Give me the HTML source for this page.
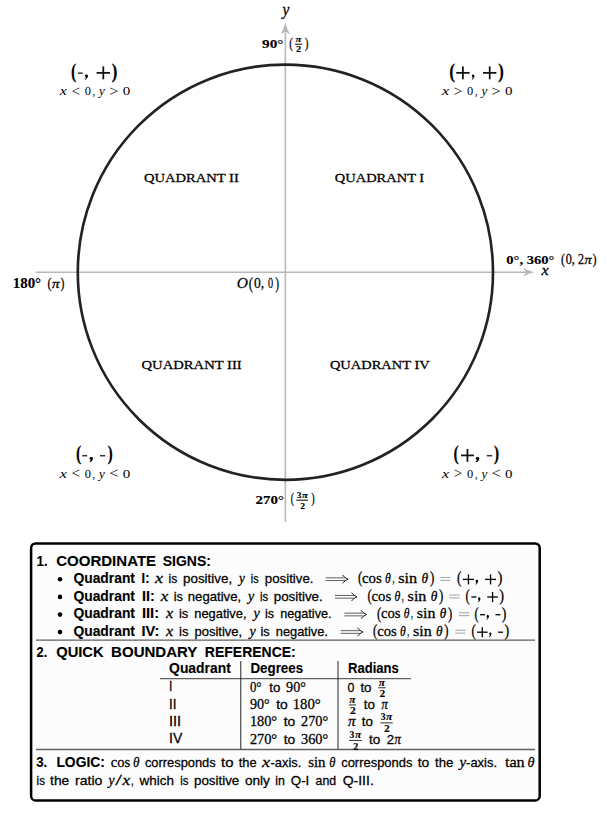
<!DOCTYPE html>
<html><head><meta charset="utf-8"><style>
html,body{margin:0;padding:0;background:#fff;width:607px;height:818px;overflow:hidden}
svg{display:block}
text{stroke:#000;stroke-width:0.26px}
text[font-weight=bold]{stroke-width:0.12px}
</style></head><body>
<svg width="607" height="818" viewBox="0 0 607 818">
<line x1="35.80" y1="272.20" x2="525.00" y2="272.20" stroke="#b8b8b8" stroke-width="1.6"/>
<line x1="285.40" y1="521.70" x2="285.40" y2="33.00" stroke="#b8b8b8" stroke-width="1.6"/>
<path d="M534,272.2 Q528,271.2 523,267.59999999999997 Q526,271.7 525,272.2 Q526,272.7 523,276.8 Q528,273.2 534,272.2 Z" fill="#b8b8b8"/>
<path d="M285.4,22.6 Q284.4,28 280.79999999999995,34.5 Q284.9,31.5 285.4,32.5 Q285.9,31.5 290.0,34.5 Q286.4,28 285.4,22.6 Z" fill="#b8b8b8"/>
<circle cx="285.4" cy="272.2" r="207.6" fill="none" stroke="#222" stroke-width="2.65"/>
<text x="282.60" y="14.61" textLength="6.88" lengthAdjust="spacingAndGlyphs" font-family='"Liberation Serif", serif' font-size="15.70" font-style="italic">y</text>
<text x="541.41" y="275.20" textLength="7.19" lengthAdjust="spacingAndGlyphs" font-family='"Liberation Serif", serif' font-size="14.38" font-style="italic">x</text>
<text x="262.10" y="47.50" textLength="21.30" lengthAdjust="spacingAndGlyphs" font-family='"Liberation Serif", serif' font-size="13.30" font-weight="bold">90°</text>
<text x="289.20" y="47.69" textLength="3.70" lengthAdjust="spacingAndGlyphs" font-family='"Liberation Serif", serif' font-size="15.55">(</text>
<text x="304.80" y="47.69" textLength="3.70" lengthAdjust="spacingAndGlyphs" font-family='"Liberation Serif", serif' font-size="15.55">)</text>
<text x="295.60" y="41.72" textLength="5.97" lengthAdjust="spacingAndGlyphs" font-family='"Liberation Serif", serif' font-size="7.68" font-weight="bold" font-style="italic">π</text>
<line x1="295.10" y1="44.20" x2="302.10" y2="44.20" stroke="#000" stroke-width="1.0"/>
<text x="296.10" y="52.30" textLength="5.20" lengthAdjust="spacingAndGlyphs" font-family='"Liberation Serif", serif' font-size="8.61" font-weight="bold">2</text>
<text x="255.50" y="503.70" textLength="28.40" lengthAdjust="spacingAndGlyphs" font-family='"Liberation Serif", serif' font-size="13.30" font-weight="bold">270°</text>
<text x="290.70" y="503.48" textLength="3.20" lengthAdjust="spacingAndGlyphs" font-family='"Liberation Serif", serif' font-size="15.10">(</text>
<text x="311.30" y="503.48" textLength="3.40" lengthAdjust="spacingAndGlyphs" font-family='"Liberation Serif", serif' font-size="15.10">)</text>
<text x="296.80" y="498.41" textLength="4.70" lengthAdjust="spacingAndGlyphs" font-family='"Liberation Serif", serif' font-size="8.63" font-weight="bold">3</text>
<text x="302.00" y="498.41" textLength="5.87" lengthAdjust="spacingAndGlyphs" font-family='"Liberation Serif", serif' font-size="8.53" font-weight="bold" font-style="italic">π</text>
<line x1="296.30" y1="500.20" x2="308.10" y2="500.20" stroke="#000" stroke-width="1.0"/>
<text x="300.20" y="508.60" textLength="4.80" lengthAdjust="spacingAndGlyphs" font-family='"Liberation Serif", serif' font-size="9.21" font-weight="bold">2</text>
<text x="12.70" y="287.80" textLength="28.40" lengthAdjust="spacingAndGlyphs" font-family='"Liberation Serif", serif' font-size="13.80" font-weight="bold">180°</text>
<text x="47.50" y="287.54" textLength="4.00" lengthAdjust="spacingAndGlyphs" font-family='"Liberation Serif", serif' font-size="15.33">(</text>
<text x="60.40" y="287.54" textLength="3.90" lengthAdjust="spacingAndGlyphs" font-family='"Liberation Serif", serif' font-size="15.33">)</text>
<text x="52.00" y="287.80" textLength="7.55" lengthAdjust="spacingAndGlyphs" font-family='"Liberation Serif", serif' font-size="13.00" font-style="italic">π</text>
<text x="506.30" y="263.70" textLength="48.10" lengthAdjust="spacingAndGlyphs" font-family='"Liberation Serif", serif' font-size="13.50" font-weight="bold">0°, 360°</text>
<text x="561.00" y="263.90" textLength="4.00" lengthAdjust="spacingAndGlyphs" font-family='"Liberation Serif", serif' font-size="14.55">(</text>
<text x="565.80" y="263.80" textLength="18.20" lengthAdjust="spacingAndGlyphs" font-family='"Liberation Serif", serif' font-size="14.00">0, 2</text>
<text x="584.50" y="263.80" textLength="7.17" lengthAdjust="spacingAndGlyphs" font-family='"Liberation Serif", serif' font-size="13.00" font-style="italic">π</text>
<text x="592.40" y="263.90" textLength="4.00" lengthAdjust="spacingAndGlyphs" font-family='"Liberation Serif", serif' font-size="14.55">)</text>
<text x="236.70" y="288.10" textLength="11.20" lengthAdjust="spacingAndGlyphs" font-family='"Liberation Serif", serif' font-size="15.00" font-style="italic">O</text>
<text x="248.70" y="288.78" textLength="4.30" lengthAdjust="spacingAndGlyphs" font-family='"Liberation Serif", serif' font-size="16.98">(</text>
<text x="253.90" y="288.30" textLength="10.20" lengthAdjust="spacingAndGlyphs" font-family='"Liberation Serif", serif' font-size="15.00">0,</text>
<text x="268.00" y="288.30" textLength="5.10" lengthAdjust="spacingAndGlyphs" font-family='"Liberation Serif", serif' font-size="15.00">0</text>
<text x="275.30" y="288.78" textLength="3.80" lengthAdjust="spacingAndGlyphs" font-family='"Liberation Serif", serif' font-size="16.98">)</text>
<text x="144.10" y="181.50" textLength="94.70" lengthAdjust="spacingAndGlyphs" font-family='"Liberation Serif", serif' font-size="13.20">QUADRANT II</text>
<text x="334.80" y="181.50" textLength="89.40" lengthAdjust="spacingAndGlyphs" font-family='"Liberation Serif", serif' font-size="13.20">QUADRANT I</text>
<text x="141.50" y="369.20" textLength="100.20" lengthAdjust="spacingAndGlyphs" font-family='"Liberation Serif", serif' font-size="13.20">QUADRANT III</text>
<text x="329.90" y="369.20" textLength="99.80" lengthAdjust="spacingAndGlyphs" font-family='"Liberation Serif", serif' font-size="13.20">QUADRANT IV</text>
<text x="70.90" y="77.55" textLength="5.30" lengthAdjust="spacingAndGlyphs" font-family='"Liberation Serif", serif' font-size="19.96" font-weight="bold">(</text>
<rect x="77.90" y="72.40" width="4.80" height="1.50" fill="#333"/>
<ellipse cx="86.46" cy="75.88" rx="1.47" ry="1.43" fill="#000"/>
<path d="M87.85,75.88 Q87.90,78.42 85.28,79.75 L84.80,79.40 Q86.56,77.63 85.76,76.74 Z" fill="#000"/>
<rect x="96.60" y="71.97" width="13.40" height="1.75" fill="#111"/>
<rect x="102.42" y="66.40" width="1.75" height="12.90" fill="#111"/>
<text x="111.60" y="77.55" textLength="5.90" lengthAdjust="spacingAndGlyphs" font-family='"Liberation Serif", serif' font-size="19.96" font-weight="bold">)</text>
<text x="449.30" y="77.55" textLength="5.90" lengthAdjust="spacingAndGlyphs" font-family='"Liberation Serif", serif' font-size="19.96" font-weight="bold">(</text>
<rect x="456.20" y="71.97" width="13.40" height="1.75" fill="#111"/>
<rect x="462.02" y="66.40" width="1.75" height="12.90" fill="#111"/>
<ellipse cx="473.20" cy="75.88" rx="1.24" ry="1.43" fill="#000"/>
<path d="M474.35,75.88 Q474.40,78.42 472.20,79.75 L471.80,79.40 Q473.29,77.63 472.61,76.74 Z" fill="#000"/>
<rect x="483.00" y="71.97" width="13.40" height="1.75" fill="#111"/>
<rect x="488.82" y="66.40" width="1.75" height="12.90" fill="#111"/>
<text x="498.00" y="77.55" textLength="5.90" lengthAdjust="spacingAndGlyphs" font-family='"Liberation Serif", serif' font-size="19.96" font-weight="bold">)</text>
<text x="75.90" y="460.15" textLength="5.30" lengthAdjust="spacingAndGlyphs" font-family='"Liberation Serif", serif' font-size="19.96" font-weight="bold">(</text>
<rect x="82.30" y="454.95" width="4.80" height="1.50" fill="#333"/>
<ellipse cx="91.22" cy="458.43" rx="1.70" ry="1.43" fill="#000"/>
<path d="M92.85,458.43 Q92.90,460.97 89.86,462.30 L89.30,461.95 Q91.33,460.18 90.41,459.29 Z" fill="#000"/>
<rect x="100.00" y="454.95" width="5.30" height="1.50" fill="#333"/>
<text x="107.50" y="460.15" textLength="5.30" lengthAdjust="spacingAndGlyphs" font-family='"Liberation Serif", serif' font-size="19.96" font-weight="bold">)</text>
<text x="453.60" y="460.15" textLength="5.30" lengthAdjust="spacingAndGlyphs" font-family='"Liberation Serif", serif' font-size="19.96" font-weight="bold">(</text>
<rect x="461.00" y="454.52" width="12.90" height="1.75" fill="#111"/>
<rect x="466.57" y="448.95" width="1.75" height="12.90" fill="#111"/>
<ellipse cx="477.48" cy="458.43" rx="1.75" ry="1.43" fill="#000"/>
<path d="M479.15,458.43 Q479.20,460.97 476.07,462.30 L475.50,461.95 Q477.59,460.18 476.64,459.29 Z" fill="#000"/>
<rect x="486.80" y="454.95" width="5.30" height="1.50" fill="#333"/>
<text x="493.70" y="460.15" textLength="5.40" lengthAdjust="spacingAndGlyphs" font-family='"Liberation Serif", serif' font-size="19.96" font-weight="bold">)</text>
<text x="59.81" y="95.40" textLength="7.09" lengthAdjust="spacingAndGlyphs" font-family='"Liberation Serif", serif' font-size="12.80" font-style="italic" style="stroke:none">x</text>
<text x="71.50" y="95.80" textLength="8.60" lengthAdjust="spacingAndGlyphs" font-family='"Liberation Serif", serif' font-size="13.76" style="stroke:none">&lt;</text>
<text x="84.70" y="95.40" textLength="6.20" lengthAdjust="spacingAndGlyphs" font-family='"Liberation Serif", serif' font-size="13.40" style="stroke:none">0</text>
<text x="92.60" y="95.40" textLength="2.60" lengthAdjust="spacingAndGlyphs" font-family='"Liberation Serif", serif' font-size="13.30" style="stroke:none">,</text>
<text x="99.10" y="95.40" textLength="5.79" lengthAdjust="spacingAndGlyphs" font-family='"Liberation Serif", serif' font-size="12.80" font-style="italic" style="stroke:none">y</text>
<text x="109.20" y="95.80" textLength="9.20" lengthAdjust="spacingAndGlyphs" font-family='"Liberation Serif", serif' font-size="13.76" style="stroke:none">&gt;</text>
<text x="122.70" y="95.40" textLength="7.50" lengthAdjust="spacingAndGlyphs" font-family='"Liberation Serif", serif' font-size="13.40" style="stroke:none">0</text>
<text x="442.11" y="95.40" textLength="7.09" lengthAdjust="spacingAndGlyphs" font-family='"Liberation Serif", serif' font-size="12.80" font-style="italic" style="stroke:none">x</text>
<text x="453.80" y="95.80" textLength="8.60" lengthAdjust="spacingAndGlyphs" font-family='"Liberation Serif", serif' font-size="13.76" style="stroke:none">&gt;</text>
<text x="467.00" y="95.40" textLength="6.20" lengthAdjust="spacingAndGlyphs" font-family='"Liberation Serif", serif' font-size="13.40" style="stroke:none">0</text>
<text x="474.90" y="95.40" textLength="2.60" lengthAdjust="spacingAndGlyphs" font-family='"Liberation Serif", serif' font-size="13.30" style="stroke:none">,</text>
<text x="481.40" y="95.40" textLength="5.79" lengthAdjust="spacingAndGlyphs" font-family='"Liberation Serif", serif' font-size="12.80" font-style="italic" style="stroke:none">y</text>
<text x="491.50" y="95.80" textLength="9.20" lengthAdjust="spacingAndGlyphs" font-family='"Liberation Serif", serif' font-size="13.76" style="stroke:none">&gt;</text>
<text x="505.00" y="95.40" textLength="7.50" lengthAdjust="spacingAndGlyphs" font-family='"Liberation Serif", serif' font-size="13.40" style="stroke:none">0</text>
<text x="59.81" y="477.70" textLength="7.09" lengthAdjust="spacingAndGlyphs" font-family='"Liberation Serif", serif' font-size="12.80" font-style="italic" style="stroke:none">x</text>
<text x="71.50" y="478.10" textLength="8.60" lengthAdjust="spacingAndGlyphs" font-family='"Liberation Serif", serif' font-size="13.76" style="stroke:none">&lt;</text>
<text x="84.70" y="477.70" textLength="6.20" lengthAdjust="spacingAndGlyphs" font-family='"Liberation Serif", serif' font-size="13.40" style="stroke:none">0</text>
<text x="92.60" y="477.70" textLength="2.60" lengthAdjust="spacingAndGlyphs" font-family='"Liberation Serif", serif' font-size="13.30" style="stroke:none">,</text>
<text x="99.10" y="477.70" textLength="5.79" lengthAdjust="spacingAndGlyphs" font-family='"Liberation Serif", serif' font-size="12.80" font-style="italic" style="stroke:none">y</text>
<text x="109.20" y="478.10" textLength="9.20" lengthAdjust="spacingAndGlyphs" font-family='"Liberation Serif", serif' font-size="13.76" style="stroke:none">&lt;</text>
<text x="122.70" y="477.70" textLength="7.50" lengthAdjust="spacingAndGlyphs" font-family='"Liberation Serif", serif' font-size="13.40" style="stroke:none">0</text>
<text x="442.11" y="477.70" textLength="7.09" lengthAdjust="spacingAndGlyphs" font-family='"Liberation Serif", serif' font-size="12.80" font-style="italic" style="stroke:none">x</text>
<text x="453.80" y="478.10" textLength="8.60" lengthAdjust="spacingAndGlyphs" font-family='"Liberation Serif", serif' font-size="13.76" style="stroke:none">&gt;</text>
<text x="467.00" y="477.70" textLength="6.20" lengthAdjust="spacingAndGlyphs" font-family='"Liberation Serif", serif' font-size="13.40" style="stroke:none">0</text>
<text x="474.90" y="477.70" textLength="2.60" lengthAdjust="spacingAndGlyphs" font-family='"Liberation Serif", serif' font-size="13.30" style="stroke:none">,</text>
<text x="481.40" y="477.70" textLength="5.79" lengthAdjust="spacingAndGlyphs" font-family='"Liberation Serif", serif' font-size="12.80" font-style="italic" style="stroke:none">y</text>
<text x="491.50" y="478.10" textLength="9.20" lengthAdjust="spacingAndGlyphs" font-family='"Liberation Serif", serif' font-size="13.76" style="stroke:none">&lt;</text>
<text x="505.00" y="477.70" textLength="7.50" lengthAdjust="spacingAndGlyphs" font-family='"Liberation Serif", serif' font-size="13.40" style="stroke:none">0</text>
<rect x="31.1" y="543.4" width="508.6" height="257.1" rx="4.6" ry="4.6" fill="#fcfcfc" stroke="#000" stroke-width="2.5"/>
<line x1="36.00" y1="640.10" x2="535.00" y2="640.10" stroke="#606060" stroke-width="1.4"/>
<line x1="36.00" y1="749.50" x2="535.00" y2="749.50" stroke="#606060" stroke-width="1.4"/>
<text x="36.60" y="566.00" textLength="11.10" lengthAdjust="spacingAndGlyphs" font-family='"Liberation Sans", sans-serif' font-size="15.20" font-weight="bold">1.</text>
<text x="56.20" y="566.00" textLength="99.90" lengthAdjust="spacingAndGlyphs" font-family='"Liberation Sans", sans-serif' font-size="15.20" font-weight="bold">COORDINATE</text>
<text x="162.70" y="566.00" textLength="48.20" lengthAdjust="spacingAndGlyphs" font-family='"Liberation Sans", sans-serif' font-size="15.20" font-weight="bold">SIGNS:</text>
<circle cx="60" cy="579.30" r="2.3" fill="#000"/>
<text x="73.40" y="582.90" textLength="61.60" lengthAdjust="spacingAndGlyphs" font-family='"Liberation Sans", sans-serif' font-size="14.40" font-weight="bold">Quadrant</text>
<text x="141.60" y="582.90" textLength="7.90" lengthAdjust="spacingAndGlyphs" font-family='"Liberation Sans", sans-serif' font-size="14.40" font-weight="bold">I:</text>
<text x="155.14" y="582.90" textLength="8.06" lengthAdjust="spacingAndGlyphs" font-family='"Liberation Serif", serif' font-size="15.00" font-style="italic">x</text>
<text x="168.50" y="582.90" textLength="8.70" lengthAdjust="spacingAndGlyphs" font-family='"Liberation Sans", sans-serif' font-size="13.20">is</text>
<text x="183.00" y="582.90" textLength="49.11" lengthAdjust="spacingAndGlyphs" font-family='"Liberation Sans", sans-serif' font-size="13.20">positive,</text>
<text x="239.01" y="582.90" textLength="5.87" lengthAdjust="spacingAndGlyphs" font-family='"Liberation Serif", serif' font-size="15.00" font-style="italic">y</text>
<text x="250.80" y="582.90" textLength="7.80" lengthAdjust="spacingAndGlyphs" font-family='"Liberation Sans", sans-serif' font-size="13.20">is</text>
<text x="264.80" y="582.90" textLength="48.71" lengthAdjust="spacingAndGlyphs" font-family='"Liberation Sans", sans-serif' font-size="13.20">positive.</text>
<path d="M325.50,577.85 H345.00 M325.50,580.55 H345.00" stroke="#444" stroke-width="0.85" fill="none"/>
<path d="M342.50,575.00 Q345.00,578.20 348.00,579.20 Q345.00,580.20 342.50,583.40" stroke="#000" stroke-width="0.9" fill="none"/>
<text x="357.90" y="583.25" textLength="4.30" lengthAdjust="spacingAndGlyphs" font-family='"Liberation Serif", serif' font-size="16.21">(</text>
<text x="362.00" y="583.10" textLength="19.80" lengthAdjust="spacingAndGlyphs" font-family='"Liberation Serif", serif' font-size="13.80">cos</text>
<text x="385.00" y="583.10" textLength="5.80" lengthAdjust="spacingAndGlyphs" font-family='"Liberation Serif", serif' font-size="13.80" font-style="italic">θ</text>
<text x="392.50" y="583.10" textLength="1.90" lengthAdjust="spacingAndGlyphs" font-family='"Liberation Serif", serif' font-size="13.80">,</text>
<text x="398.30" y="583.10" textLength="18.90" lengthAdjust="spacingAndGlyphs" font-family='"Liberation Serif", serif' font-size="13.80">sin</text>
<text x="421.50" y="583.10" textLength="6.60" lengthAdjust="spacingAndGlyphs" font-family='"Liberation Serif", serif' font-size="13.80" font-style="italic">θ</text>
<text x="429.90" y="583.25" textLength="4.30" lengthAdjust="spacingAndGlyphs" font-family='"Liberation Serif", serif' font-size="16.21">)</text>
<path d="M440.30,577.45 H450.40 M440.30,580.35 H450.40" stroke="#999" stroke-width="0.9" fill="none"/>
<text x="457.00" y="583.32" textLength="4.42" lengthAdjust="spacingAndGlyphs" font-family='"Liberation Serif", serif' font-size="16.32">(</text>
<rect x="462.93" y="578.75" width="11.05" height="1.30" fill="#000"/>
<rect x="467.80" y="574.40" width="1.30" height="10.00" fill="#000"/>
<ellipse cx="476.84" cy="581.05" rx="1.20" ry="1.35" fill="#000"/>
<path d="M477.94,581.05 Q477.99,583.45 475.87,584.70 L475.48,584.35 Q476.92,582.70 476.26,581.86 Z" fill="#000"/>
<rect x="485.02" y="578.75" width="11.05" height="1.30" fill="#000"/>
<rect x="489.90" y="574.40" width="1.30" height="10.00" fill="#000"/>
<text x="497.48" y="583.32" textLength="4.92" lengthAdjust="spacingAndGlyphs" font-family='"Liberation Serif", serif' font-size="16.32">)</text>
<circle cx="60" cy="596.90" r="2.3" fill="#000"/>
<text x="73.40" y="600.50" textLength="61.60" lengthAdjust="spacingAndGlyphs" font-family='"Liberation Sans", sans-serif' font-size="14.40" font-weight="bold">Quadrant</text>
<text x="141.90" y="600.50" textLength="12.80" lengthAdjust="spacingAndGlyphs" font-family='"Liberation Sans", sans-serif' font-size="14.40" font-weight="bold">II:</text>
<text x="160.72" y="600.50" textLength="7.58" lengthAdjust="spacingAndGlyphs" font-family='"Liberation Serif", serif' font-size="15.00" font-style="italic">x</text>
<text x="173.70" y="600.50" textLength="9.20" lengthAdjust="spacingAndGlyphs" font-family='"Liberation Sans", sans-serif' font-size="13.20">is</text>
<text x="187.80" y="600.50" textLength="53.29" lengthAdjust="spacingAndGlyphs" font-family='"Liberation Sans", sans-serif' font-size="13.20">negative,</text>
<text x="248.08" y="600.50" textLength="6.21" lengthAdjust="spacingAndGlyphs" font-family='"Liberation Serif", serif' font-size="15.00" font-style="italic">y</text>
<text x="260.10" y="600.50" textLength="8.20" lengthAdjust="spacingAndGlyphs" font-family='"Liberation Sans", sans-serif' font-size="13.20">is</text>
<text x="273.70" y="600.50" textLength="49.11" lengthAdjust="spacingAndGlyphs" font-family='"Liberation Sans", sans-serif' font-size="13.20">positive.</text>
<path d="M334.90,595.45 H354.00 M334.90,598.15 H354.00" stroke="#444" stroke-width="0.85" fill="none"/>
<path d="M351.50,592.60 Q354.00,595.80 357.00,596.80 Q354.00,597.80 351.50,601.00" stroke="#000" stroke-width="0.9" fill="none"/>
<text x="367.50" y="600.85" textLength="4.27" lengthAdjust="spacingAndGlyphs" font-family='"Liberation Serif", serif' font-size="16.21">(</text>
<text x="371.57" y="600.70" textLength="19.67" lengthAdjust="spacingAndGlyphs" font-family='"Liberation Serif", serif' font-size="13.80">cos</text>
<text x="394.42" y="600.70" textLength="5.76" lengthAdjust="spacingAndGlyphs" font-family='"Liberation Serif", serif' font-size="13.80" font-style="italic">θ</text>
<text x="401.87" y="600.70" textLength="1.89" lengthAdjust="spacingAndGlyphs" font-family='"Liberation Serif", serif' font-size="13.80">,</text>
<text x="407.64" y="600.70" textLength="18.78" lengthAdjust="spacingAndGlyphs" font-family='"Liberation Serif", serif' font-size="13.80">sin</text>
<text x="430.68" y="600.70" textLength="6.56" lengthAdjust="spacingAndGlyphs" font-family='"Liberation Serif", serif' font-size="13.80" font-style="italic">θ</text>
<text x="439.03" y="600.85" textLength="4.27" lengthAdjust="spacingAndGlyphs" font-family='"Liberation Serif", serif' font-size="16.21">)</text>
<path d="M449.30,595.05 H459.70 M449.30,597.95 H459.70" stroke="#999" stroke-width="0.9" fill="none"/>
<text x="465.60" y="600.92" textLength="4.30" lengthAdjust="spacingAndGlyphs" font-family='"Liberation Serif", serif' font-size="16.32">(</text>
<rect x="471.37" y="596.35" width="5.08" height="1.30" fill="#000"/>
<ellipse cx="479.23" cy="598.65" rx="1.17" ry="1.35" fill="#000"/>
<path d="M480.30,598.65 Q480.35,601.05 478.29,602.30 L477.91,601.95 Q479.31,600.30 478.67,599.46 Z" fill="#000"/>
<rect x="487.20" y="596.35" width="10.75" height="1.30" fill="#000"/>
<rect x="491.92" y="592.00" width="1.30" height="10.00" fill="#000"/>
<text x="499.31" y="600.92" textLength="4.79" lengthAdjust="spacingAndGlyphs" font-family='"Liberation Serif", serif' font-size="16.32">)</text>
<circle cx="60" cy="614.60" r="2.3" fill="#000"/>
<text x="73.40" y="618.20" textLength="61.60" lengthAdjust="spacingAndGlyphs" font-family='"Liberation Sans", sans-serif' font-size="14.40" font-weight="bold">Quadrant</text>
<text x="141.90" y="618.20" textLength="17.29" lengthAdjust="spacingAndGlyphs" font-family='"Liberation Sans", sans-serif' font-size="14.40" font-weight="bold">III:</text>
<text x="166.01" y="618.20" textLength="7.19" lengthAdjust="spacingAndGlyphs" font-family='"Liberation Serif", serif' font-size="15.00" font-style="italic">x</text>
<text x="179.00" y="618.20" textLength="9.29" lengthAdjust="spacingAndGlyphs" font-family='"Liberation Sans", sans-serif' font-size="13.20">is</text>
<text x="194.29" y="618.20" textLength="52.21" lengthAdjust="spacingAndGlyphs" font-family='"Liberation Sans", sans-serif' font-size="13.20">negative,</text>
<text x="253.39" y="618.20" textLength="6.29" lengthAdjust="spacingAndGlyphs" font-family='"Liberation Serif", serif' font-size="15.00" font-style="italic">y</text>
<text x="265.00" y="618.20" textLength="9.15" lengthAdjust="spacingAndGlyphs" font-family='"Liberation Sans", sans-serif' font-size="13.20">is</text>
<text x="280.15" y="618.20" textLength="51.44" lengthAdjust="spacingAndGlyphs" font-family='"Liberation Sans", sans-serif' font-size="13.20">negative.</text>
<path d="M344.40,613.15 H363.50 M344.40,615.85 H363.50" stroke="#444" stroke-width="0.85" fill="none"/>
<path d="M361.00,610.30 Q363.50,613.50 366.50,614.50 Q363.50,615.50 361.00,618.70" stroke="#000" stroke-width="0.9" fill="none"/>
<text x="376.90" y="618.55" textLength="4.24" lengthAdjust="spacingAndGlyphs" font-family='"Liberation Serif", serif' font-size="16.21">(</text>
<text x="380.95" y="618.40" textLength="19.54" lengthAdjust="spacingAndGlyphs" font-family='"Liberation Serif", serif' font-size="13.80">cos</text>
<text x="403.64" y="618.40" textLength="5.73" lengthAdjust="spacingAndGlyphs" font-family='"Liberation Serif", serif' font-size="13.80" font-style="italic">θ</text>
<text x="411.05" y="618.40" textLength="1.88" lengthAdjust="spacingAndGlyphs" font-family='"Liberation Serif", serif' font-size="13.80">,</text>
<text x="416.77" y="618.40" textLength="18.65" lengthAdjust="spacingAndGlyphs" font-family='"Liberation Serif", serif' font-size="13.80">sin</text>
<text x="439.67" y="618.40" textLength="6.52" lengthAdjust="spacingAndGlyphs" font-family='"Liberation Serif", serif' font-size="13.80" font-style="italic">θ</text>
<text x="447.96" y="618.55" textLength="4.24" lengthAdjust="spacingAndGlyphs" font-family='"Liberation Serif", serif' font-size="16.21">)</text>
<path d="M458.90,612.75 H469.30 M458.90,615.65 H469.30" stroke="#999" stroke-width="0.9" fill="none"/>
<text x="474.50" y="618.62" textLength="4.18" lengthAdjust="spacingAndGlyphs" font-family='"Liberation Serif", serif' font-size="16.32">(</text>
<rect x="480.10" y="614.05" width="4.94" height="1.30" fill="#000"/>
<ellipse cx="487.75" cy="616.35" rx="1.14" ry="1.35" fill="#000"/>
<path d="M488.78,616.35 Q488.83,618.75 486.83,620.00 L486.46,619.65 Q487.82,618.00 487.20,617.16 Z" fill="#000"/>
<rect x="495.48" y="614.05" width="4.94" height="1.30" fill="#000"/>
<text x="501.75" y="618.62" textLength="4.65" lengthAdjust="spacingAndGlyphs" font-family='"Liberation Serif", serif' font-size="16.32">)</text>
<circle cx="60" cy="632.10" r="2.3" fill="#000"/>
<text x="73.40" y="635.70" textLength="61.60" lengthAdjust="spacingAndGlyphs" font-family='"Liberation Sans", sans-serif' font-size="14.40" font-weight="bold">Quadrant</text>
<text x="141.50" y="635.70" textLength="17.90" lengthAdjust="spacingAndGlyphs" font-family='"Liberation Sans", sans-serif' font-size="14.40" font-weight="bold">IV:</text>
<text x="166.01" y="635.70" textLength="7.19" lengthAdjust="spacingAndGlyphs" font-family='"Liberation Serif", serif' font-size="15.00" font-style="italic">x</text>
<text x="179.00" y="635.70" textLength="9.41" lengthAdjust="spacingAndGlyphs" font-family='"Liberation Sans", sans-serif' font-size="13.20">is</text>
<text x="194.41" y="635.70" textLength="47.80" lengthAdjust="spacingAndGlyphs" font-family='"Liberation Sans", sans-serif' font-size="13.20">positive,</text>
<text x="249.38" y="635.70" textLength="6.21" lengthAdjust="spacingAndGlyphs" font-family='"Liberation Serif", serif' font-size="15.00" font-style="italic">y</text>
<text x="260.50" y="635.70" textLength="9.27" lengthAdjust="spacingAndGlyphs" font-family='"Liberation Sans", sans-serif' font-size="13.20">is</text>
<text x="275.77" y="635.70" textLength="52.12" lengthAdjust="spacingAndGlyphs" font-family='"Liberation Sans", sans-serif' font-size="13.20">negative.</text>
<path d="M340.70,630.65 H360.00 M340.70,633.35 H360.00" stroke="#444" stroke-width="0.85" fill="none"/>
<path d="M357.50,627.80 Q360.00,631.00 363.00,632.00 Q360.00,633.00 357.50,636.20" stroke="#000" stroke-width="0.9" fill="none"/>
<text x="373.10" y="636.05" textLength="4.25" lengthAdjust="spacingAndGlyphs" font-family='"Liberation Serif", serif' font-size="16.21">(</text>
<text x="377.15" y="635.90" textLength="19.57" lengthAdjust="spacingAndGlyphs" font-family='"Liberation Serif", serif' font-size="13.80">cos</text>
<text x="399.88" y="635.90" textLength="5.73" lengthAdjust="spacingAndGlyphs" font-family='"Liberation Serif", serif' font-size="13.80" font-style="italic">θ</text>
<text x="407.29" y="635.90" textLength="1.88" lengthAdjust="spacingAndGlyphs" font-family='"Liberation Serif", serif' font-size="13.80">,</text>
<text x="413.02" y="635.90" textLength="18.68" lengthAdjust="spacingAndGlyphs" font-family='"Liberation Serif", serif' font-size="13.80">sin</text>
<text x="435.95" y="635.90" textLength="6.53" lengthAdjust="spacingAndGlyphs" font-family='"Liberation Serif", serif' font-size="13.80" font-style="italic">θ</text>
<text x="444.25" y="636.05" textLength="4.25" lengthAdjust="spacingAndGlyphs" font-family='"Liberation Serif", serif' font-size="16.21">)</text>
<path d="M455.20,630.25 H465.60 M455.20,633.15 H465.60" stroke="#999" stroke-width="0.9" fill="none"/>
<text x="471.40" y="636.12" textLength="4.21" lengthAdjust="spacingAndGlyphs" font-family='"Liberation Serif", serif' font-size="16.32">(</text>
<rect x="477.05" y="631.55" width="10.53" height="1.30" fill="#000"/>
<rect x="481.66" y="627.20" width="1.30" height="10.00" fill="#000"/>
<ellipse cx="490.30" cy="633.85" rx="1.14" ry="1.35" fill="#000"/>
<path d="M491.34,633.85 Q491.39,636.25 489.38,637.50 L489.01,637.15 Q490.37,635.50 489.75,634.66 Z" fill="#000"/>
<rect x="498.10" y="631.55" width="4.98" height="1.30" fill="#000"/>
<text x="504.41" y="636.12" textLength="4.69" lengthAdjust="spacingAndGlyphs" font-family='"Liberation Serif", serif' font-size="16.32">)</text>
<text x="36.50" y="657.40" textLength="10.70" lengthAdjust="spacingAndGlyphs" font-family='"Liberation Sans", sans-serif' font-size="15.20" font-weight="bold">2.</text>
<text x="56.20" y="657.40" textLength="47.40" lengthAdjust="spacingAndGlyphs" font-family='"Liberation Sans", sans-serif' font-size="15.20" font-weight="bold">QUICK</text>
<text x="111.10" y="657.40" textLength="86.30" lengthAdjust="spacingAndGlyphs" font-family='"Liberation Sans", sans-serif' font-size="15.20" font-weight="bold">BOUNDARY</text>
<text x="204.80" y="657.40" textLength="90.99" lengthAdjust="spacingAndGlyphs" font-family='"Liberation Sans", sans-serif' font-size="15.20" font-weight="bold">REFERENCE:</text>
<text x="169.10" y="672.70" textLength="61.70" lengthAdjust="spacingAndGlyphs" font-family='"Liberation Sans", sans-serif' font-size="14.40" font-weight="bold">Quadrant</text>
<text x="250.50" y="672.70" textLength="52.60" lengthAdjust="spacingAndGlyphs" font-family='"Liberation Sans", sans-serif' font-size="14.40" font-weight="bold">Degrees</text>
<text x="348.00" y="672.70" textLength="50.80" lengthAdjust="spacingAndGlyphs" font-family='"Liberation Sans", sans-serif' font-size="14.40" font-weight="bold">Radians</text>
<line x1="160.00" y1="678.60" x2="411.00" y2="678.60" stroke="#606060" stroke-width="1.4"/>
<line x1="240.80" y1="661.00" x2="240.80" y2="749.00" stroke="#222" stroke-width="1.0"/>
<line x1="338.00" y1="661.00" x2="338.00" y2="749.00" stroke="#222" stroke-width="1.0"/>
<text x="169.00" y="691.30" textLength="3.40" lengthAdjust="spacingAndGlyphs" font-family='"Liberation Sans", sans-serif' font-size="14.40">I</text>
<text x="169.00" y="708.60" textLength="7.50" lengthAdjust="spacingAndGlyphs" font-family='"Liberation Sans", sans-serif' font-size="14.40">II</text>
<text x="169.00" y="725.80" textLength="12.11" lengthAdjust="spacingAndGlyphs" font-family='"Liberation Sans", sans-serif' font-size="14.40">III</text>
<text x="169.00" y="743.10" textLength="13.20" lengthAdjust="spacingAndGlyphs" font-family='"Liberation Sans", sans-serif' font-size="14.40">IV</text>
<text x="249.90" y="691.70" textLength="11.50" lengthAdjust="spacingAndGlyphs" font-family='"Liberation Serif", serif' font-size="14.50">0°</text>
<text x="269.30" y="691.70" textLength="11.10" lengthAdjust="spacingAndGlyphs" font-family='"Liberation Sans", sans-serif' font-size="13.20">to</text>
<text x="286.10" y="691.70" textLength="19.80" lengthAdjust="spacingAndGlyphs" font-family='"Liberation Serif", serif' font-size="14.50">90°</text>
<text x="249.90" y="709.00" textLength="19.80" lengthAdjust="spacingAndGlyphs" font-family='"Liberation Serif", serif' font-size="14.50">90°</text>
<text x="276.20" y="709.00" textLength="11.60" lengthAdjust="spacingAndGlyphs" font-family='"Liberation Sans", sans-serif' font-size="13.20">to</text>
<text x="292.70" y="709.00" textLength="28.00" lengthAdjust="spacingAndGlyphs" font-family='"Liberation Serif", serif' font-size="14.50">180°</text>
<text x="249.90" y="726.20" textLength="27.20" lengthAdjust="spacingAndGlyphs" font-family='"Liberation Serif", serif' font-size="14.50">180°</text>
<text x="283.70" y="726.20" textLength="11.50" lengthAdjust="spacingAndGlyphs" font-family='"Liberation Sans", sans-serif' font-size="13.20">to</text>
<text x="301.00" y="726.20" textLength="27.10" lengthAdjust="spacingAndGlyphs" font-family='"Liberation Serif", serif' font-size="14.50">270°</text>
<text x="249.90" y="743.50" textLength="27.20" lengthAdjust="spacingAndGlyphs" font-family='"Liberation Serif", serif' font-size="14.50">270°</text>
<text x="283.70" y="743.50" textLength="11.50" lengthAdjust="spacingAndGlyphs" font-family='"Liberation Sans", sans-serif' font-size="13.20">to</text>
<text x="301.00" y="743.50" textLength="27.10" lengthAdjust="spacingAndGlyphs" font-family='"Liberation Serif", serif' font-size="14.50">360°</text>
<text x="347.60" y="691.70" textLength="6.90" lengthAdjust="spacingAndGlyphs" font-family='"Liberation Sans", sans-serif' font-size="13.20">0</text>
<text x="360.40" y="691.70" textLength="11.20" lengthAdjust="spacingAndGlyphs" font-family='"Liberation Sans", sans-serif' font-size="13.20">to</text>
<text x="378.80" y="686.00" textLength="6.26" lengthAdjust="spacingAndGlyphs" font-family='"Liberation Serif", serif' font-size="10.02" font-weight="bold" font-style="italic">π</text>
<line x1="378.30" y1="687.75" x2="385.80" y2="687.75" stroke="#333" stroke-width="1.0"/>
<text x="379.60" y="697.10" textLength="5.70" lengthAdjust="spacingAndGlyphs" font-family='"Liberation Serif", serif' font-size="11.33" font-weight="bold">2</text>
<text x="349.30" y="702.79" textLength="6.26" lengthAdjust="spacingAndGlyphs" font-family='"Liberation Serif", serif' font-size="10.66" font-weight="bold" font-style="italic">π</text>
<line x1="348.90" y1="704.95" x2="356.00" y2="704.95" stroke="#333" stroke-width="1.0"/>
<text x="350.00" y="713.90" textLength="5.80" lengthAdjust="spacingAndGlyphs" font-family='"Liberation Serif", serif' font-size="11.03" font-weight="bold">2</text>
<text x="363.70" y="709.00" textLength="11.20" lengthAdjust="spacingAndGlyphs" font-family='"Liberation Sans", sans-serif' font-size="13.20">to</text>
<text x="381.50" y="709.00" textLength="6.31" lengthAdjust="spacingAndGlyphs" font-family='"Liberation Serif", serif' font-size="14.00" font-style="italic">π</text>
<text x="347.90" y="726.20" textLength="7.55" lengthAdjust="spacingAndGlyphs" font-family='"Liberation Serif", serif' font-size="14.00" font-style="italic">π</text>
<text x="361.70" y="726.20" textLength="11.20" lengthAdjust="spacingAndGlyphs" font-family='"Liberation Sans", sans-serif' font-size="13.20">to</text>
<text x="380.80" y="720.39" textLength="4.80" lengthAdjust="spacingAndGlyphs" font-family='"Liberation Serif", serif' font-size="10.71" font-weight="bold">3</text>
<text x="385.90" y="720.39" textLength="6.35" lengthAdjust="spacingAndGlyphs" font-family='"Liberation Serif", serif' font-size="10.66" font-weight="bold" font-style="italic">π</text>
<line x1="380.40" y1="722.85" x2="392.80" y2="722.85" stroke="#333" stroke-width="1.0"/>
<text x="384.10" y="731.70" textLength="5.70" lengthAdjust="spacingAndGlyphs" font-family='"Liberation Serif", serif' font-size="10.88" font-weight="bold">2</text>
<text x="349.60" y="738.39" textLength="4.80" lengthAdjust="spacingAndGlyphs" font-family='"Liberation Serif", serif' font-size="10.71" font-weight="bold">3</text>
<text x="354.90" y="738.39" textLength="6.35" lengthAdjust="spacingAndGlyphs" font-family='"Liberation Serif", serif' font-size="10.66" font-weight="bold" font-style="italic">π</text>
<line x1="349.10" y1="740.45" x2="361.80" y2="740.45" stroke="#333" stroke-width="1.0"/>
<text x="352.90" y="749.70" textLength="5.30" lengthAdjust="spacingAndGlyphs" font-family='"Liberation Serif", serif' font-size="11.33" font-weight="bold">2</text>
<text x="369.00" y="743.50" textLength="11.20" lengthAdjust="spacingAndGlyphs" font-family='"Liberation Sans", sans-serif' font-size="13.20">to</text>
<text x="386.70" y="743.50" textLength="7.30" lengthAdjust="spacingAndGlyphs" font-family='"Liberation Sans", sans-serif' font-size="13.20">2</text>
<text x="394.50" y="743.50" textLength="6.41" lengthAdjust="spacingAndGlyphs" font-family='"Liberation Serif", serif' font-size="14.00" font-style="italic">π</text>
<text x="36.20" y="767.40" textLength="11.10" lengthAdjust="spacingAndGlyphs" font-family='"Liberation Sans", sans-serif' font-size="15.20" font-weight="bold">3.</text>
<text x="56.40" y="767.40" textLength="48.49" lengthAdjust="spacingAndGlyphs" font-family='"Liberation Sans", sans-serif' font-size="15.20" font-weight="bold">LOGIC:</text>
<text x="110.70" y="767.40" textLength="19.40" lengthAdjust="spacingAndGlyphs" font-family='"Liberation Serif", serif' font-size="14.50">cos</text>
<text x="133.00" y="767.40" textLength="6.50" lengthAdjust="spacingAndGlyphs" font-family='"Liberation Serif", serif' font-size="15.00" font-style="italic">θ</text>
<text x="144.90" y="767.40" textLength="70.80" lengthAdjust="spacingAndGlyphs" font-family='"Liberation Sans", sans-serif' font-size="13.20">corresponds</text>
<text x="221.00" y="767.40" textLength="12.40" lengthAdjust="spacingAndGlyphs" font-family='"Liberation Sans", sans-serif' font-size="13.20">to</text>
<text x="238.70" y="767.40" textLength="17.90" lengthAdjust="spacingAndGlyphs" font-family='"Liberation Sans", sans-serif' font-size="13.20">the</text>
<text x="262.14" y="767.40" textLength="8.06" lengthAdjust="spacingAndGlyphs" font-family='"Liberation Serif", serif' font-size="15.00" font-style="italic">x</text>
<text x="270.60" y="767.40" textLength="30.60" lengthAdjust="spacingAndGlyphs" font-family='"Liberation Sans", sans-serif' font-size="13.20">-axis.</text>
<text x="308.20" y="767.40" textLength="17.30" lengthAdjust="spacingAndGlyphs" font-family='"Liberation Serif", serif' font-size="14.50">sin</text>
<text x="329.20" y="767.40" textLength="6.20" lengthAdjust="spacingAndGlyphs" font-family='"Liberation Serif", serif' font-size="15.00" font-style="italic">θ</text>
<text x="341.20" y="767.40" textLength="71.20" lengthAdjust="spacingAndGlyphs" font-family='"Liberation Sans", sans-serif' font-size="13.20">corresponds</text>
<text x="417.70" y="767.40" textLength="11.50" lengthAdjust="spacingAndGlyphs" font-family='"Liberation Sans", sans-serif' font-size="13.20">to</text>
<text x="435.00" y="767.40" textLength="18.30" lengthAdjust="spacingAndGlyphs" font-family='"Liberation Sans", sans-serif' font-size="13.20">the</text>
<text x="459.45" y="767.40" textLength="6.63" lengthAdjust="spacingAndGlyphs" font-family='"Liberation Serif", serif' font-size="15.00" font-style="italic">y</text>
<text x="466.10" y="767.40" textLength="30.90" lengthAdjust="spacingAndGlyphs" font-family='"Liberation Sans", sans-serif' font-size="13.20">-axis.</text>
<text x="504.90" y="767.40" textLength="19.79" lengthAdjust="spacingAndGlyphs" font-family='"Liberation Serif", serif' font-size="14.50">tan</text>
<text x="527.50" y="767.40" textLength="7.00" lengthAdjust="spacingAndGlyphs" font-family='"Liberation Serif", serif' font-size="15.00" font-style="italic">θ</text>
<text x="36.60" y="785.20" textLength="8.30" lengthAdjust="spacingAndGlyphs" font-family='"Liberation Sans", sans-serif' font-size="13.20">is</text>
<text x="50.10" y="785.20" textLength="19.20" lengthAdjust="spacingAndGlyphs" font-family='"Liberation Sans", sans-serif' font-size="13.20">the</text>
<text x="75.00" y="785.20" textLength="27.30" lengthAdjust="spacingAndGlyphs" font-family='"Liberation Sans", sans-serif' font-size="13.20">ratio</text>
<text x="108.44" y="785.20" textLength="6.04" lengthAdjust="spacingAndGlyphs" font-family='"Liberation Serif", serif' font-size="15.00" font-style="italic">y</text>
<text x="115.30" y="785.20" textLength="6.60" lengthAdjust="spacingAndGlyphs" font-family='"Liberation Serif", serif' font-size="15.00">/</text>
<text x="122.42" y="785.20" textLength="7.67" lengthAdjust="spacingAndGlyphs" font-family='"Liberation Serif", serif' font-size="15.00" font-style="italic">x</text>
<text x="131.10" y="785.20" textLength="2.70" lengthAdjust="spacingAndGlyphs" font-family='"Liberation Sans", sans-serif' font-size="13.20">,</text>
<text x="139.43" y="785.20" textLength="34.47" lengthAdjust="spacingAndGlyphs" font-family='"Liberation Sans", sans-serif' font-size="13.20">which</text>
<text x="180.20" y="785.20" textLength="8.20" lengthAdjust="spacingAndGlyphs" font-family='"Liberation Sans", sans-serif' font-size="13.20">is</text>
<text x="194.00" y="785.20" textLength="45.30" lengthAdjust="spacingAndGlyphs" font-family='"Liberation Sans", sans-serif' font-size="13.20">positive</text>
<text x="244.90" y="785.20" textLength="25.01" lengthAdjust="spacingAndGlyphs" font-family='"Liberation Sans", sans-serif' font-size="13.20">only</text>
<text x="275.30" y="785.20" textLength="9.60" lengthAdjust="spacingAndGlyphs" font-family='"Liberation Sans", sans-serif' font-size="13.20">in</text>
<text x="290.80" y="785.20" textLength="18.50" lengthAdjust="spacingAndGlyphs" font-family='"Liberation Sans", sans-serif' font-size="13.20">Q-I</text>
<text x="315.60" y="785.20" textLength="20.51" lengthAdjust="spacingAndGlyphs" font-family='"Liberation Sans", sans-serif' font-size="13.20">and</text>
<text x="342.70" y="785.20" textLength="31.10" lengthAdjust="spacingAndGlyphs" font-family='"Liberation Sans", sans-serif' font-size="13.20">Q-III.</text>
</svg>
</body></html>
